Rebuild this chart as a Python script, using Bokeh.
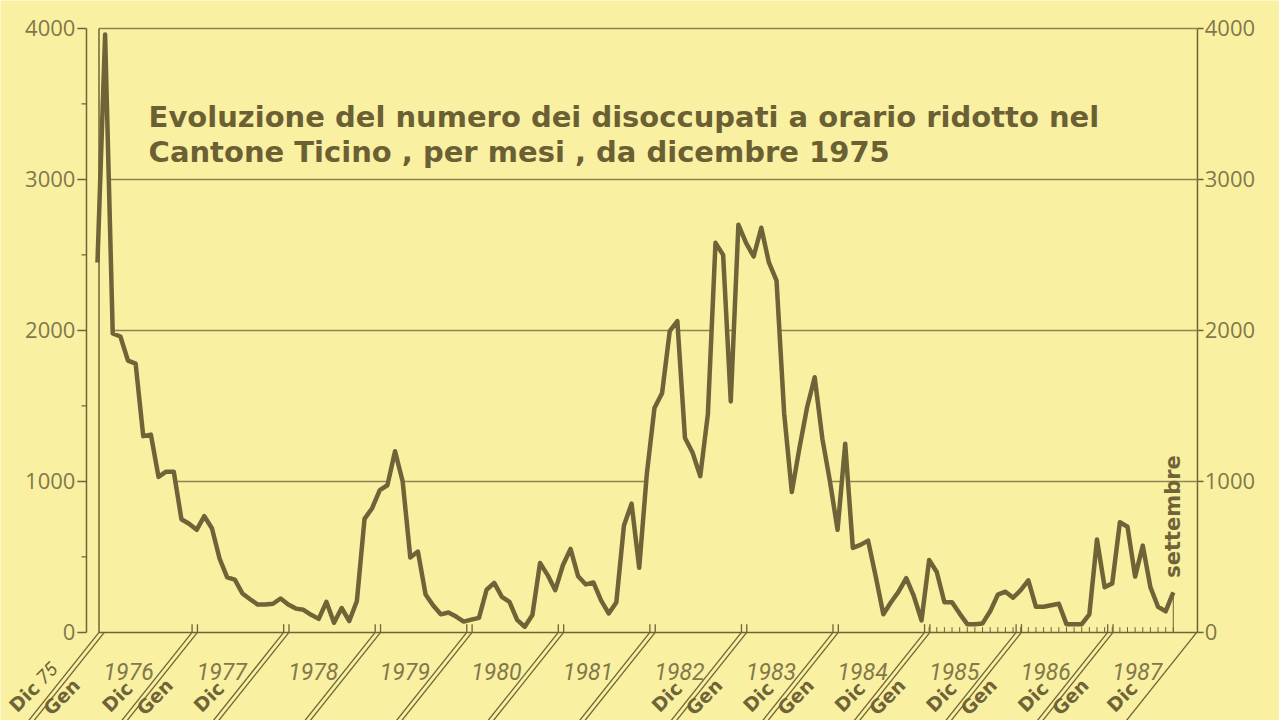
import math
from bokeh.plotting import figure
from bokeh.models import Range1d
from bokeh.core.properties import value
from bokeh.embed import file_html
from bokeh.resources import INLINE

# ---------------- data ----------------
# month index: 0 = dicembre 1975 ... 141 = settembre 1987
months = list(range(142))
disoccupati = [
    2450, 3960, 1980, 1960, 1800, 1780, 1300, 1310, 1030, 1065, 1065, 750,   # dic75 - nov76
    720, 680, 770, 690, 490, 365, 350, 258, 220, 185, 185, 190,             # dic76 - nov77
    225, 185, 158, 150, 117, 90, 203, 64, 162, 76, 208, 752,                # dic77 - nov78
    823, 943, 975, 1200, 1000, 497, 536, 252, 178, 120, 132, 105,           # dic78 - nov79
    72, 85, 97, 283, 328, 236, 202, 83, 38, 115, 460, 380,                  # dic79 - nov80
    280, 445, 553, 372, 318, 331, 212, 126, 198, 708, 853, 428,             # dic80 - nov81
    1050, 1486, 1585, 1995, 2062, 1288, 1190, 1035, 1445, 2580, 2500, 1530, # dic81 - nov82
    2700, 2580, 2490, 2680, 2450, 2330, 1450, 930, 1220, 1490, 1690, 1286,  # dic82 - nov83
    1000, 680, 1250, 560, 580, 608, 370, 121, 200, 270, 360, 240,           # dic83 - nov84
    80, 480, 400, 200, 200, 125, 55, 55, 60, 140, 250, 270,                 # dic84 - nov85
    230, 280, 345, 170, 170, 180, 190, 55, 55, 55, 120, 615,                # dic85 - nov86
    300, 325, 730, 700, 370, 575, 300, 170, 140, 265,                       # dic86 - set87
]
y_ticks = [0, 1000, 2000, 3000, 4000]
y_tick_labels = ["0", "1000", "2000", "3000", "4000"]
y_minor = [500, 1500, 2500, 3500]
grid_levels = [1000, 2000, 3000, 4000]
years = ["1976", "1977", "1978", "1979", "1980", "1981",
         "1982", "1983", "1984", "1985", "1986", "1987"]
# labels written under each year break (origin, 1977 ... 1987, end)
break_labels = [["Dic", "Gen"], ["Dic", "Gen"], ["Dic"], [], [], [], [],
                ["Dic", "Gen"], ["Dic", "Gen"], ["Dic", "Gen"], ["Dic", "Gen"],
                ["Dic", "Gen"], ["Dic"]]
first_year_suffix = "75"
title_lines = ["Evoluzione del numero dei disoccupati a orario ridotto nel",
               "Cantone Ticino , per mesi , da dicembre 1975"]
last_label = "settembre"

# ---------------- style ----------------
BG = "#FAF0A2"
INK = "#6E6437"
SOFT = "#82784A"
GRIDC = "#8E844F"
X_LO, X_HI = -12.71, 154.92      # whole canvas
Y_LO, Y_HI = -583, 4185
AXIS_L, AXIS_R = -1.44, 144.17   # positions of the two value axes
LEFT_EDGE = 0.2
SLANT = 0.0158                   # months per value unit for the slanted break lines
PAIR_GAP = 0.7
Y_BOTTOM = -640
Y_LAB = -425

p = figure(width=1279, height=720, output_backend="svg", toolbar_location=None,
           x_range=Range1d(X_LO, X_HI), y_range=Range1d(Y_LO, Y_HI),
           x_axis_location=None, y_axis_location=None,
           min_border_left=0, min_border_right=0, min_border_top=0, min_border_bottom=0)
p.background_fill_color = BG
p.border_fill_color = BG
p.outline_line_color = None
p.grid.visible = False

# ----- value axes (left with minor ticks, right) -----
n = len(y_ticks)
p.segment(x0=[AXIS_L, AXIS_R], x1=[AXIS_L, AXIS_R], y0=[0, 0], y1=[4000, 4000],
          line_color=INK, line_width=1.5)
p.segment(x0=[AXIS_L] * n, x1=[AXIS_L - 1.2] * n, y0=y_ticks, y1=y_ticks,
          line_color=INK, line_width=1.5)
p.segment(x0=[AXIS_L] * len(y_minor), x1=[AXIS_L - 0.65] * len(y_minor), y0=y_minor, y1=y_minor,
          line_color=INK, line_width=1.3)
p.segment(x0=[AXIS_R] * n, x1=[AXIS_R + 0.8] * n, y0=y_ticks, y1=y_ticks,
          line_color=INK, line_width=1.5)
p.text(x=[AXIS_L - 1.45] * n, y=y_ticks, text=y_tick_labels, text_font=value("Open Sans"),
       text_font_size="22px", text_color=SOFT, text_align="right", text_baseline="middle")
p.text(x=[AXIS_R + 0.95] * n, y=y_ticks, text=y_tick_labels, text_font=value("Open Sans"),
       text_font_size="22px", text_color=SOFT, text_align="left", text_baseline="middle")

# grid lines
p.segment(x0=[LEFT_EDGE] * len(grid_levels), x1=[AXIS_R] * len(grid_levels),
          y0=grid_levels, y1=grid_levels, line_color=GRIDC, line_width=1.5)

# hide grid under the curve
p.varea(x=months, y1=[0] * len(months), y2=disoccupati, fill_color=BG)

# left frame line and baseline
p.segment(x0=[LEFT_EDGE, LEFT_EDGE], x1=[LEFT_EDGE, AXIS_R], y0=[0, 0], y1=[4000, 0],
          line_color=INK, line_width=1.5)

# year breaks: slanted double lines
breaks = [LEFT_EDGE] + [12 * k + 0.4 for k in range(1, len(years))] + [AXIS_R - 0.1]
sx0, sx1, sy0, sy1 = [], [], [], []
for j, b in enumerate(breaks):
    offs = [0, PAIR_GAP] if j < len(breaks) - 1 else [0]
    for o in offs:
        sx0.append(b + o)
        sy0.append(0)
        sx1.append(b + o - (0 - Y_BOTTOM) * SLANT)
        sy1.append(Y_BOTTOM)
p.segment(x0=sx0, x1=sx1, y0=sy0, y1=sy1, line_color=INK, line_width=1.3)
# short upright strokes of the breaks
up_x = [b + o for b in breaks[1:-1] for o in (0, PAIR_GAP)]
p.segment(x0=up_x, x1=up_x, y0=[0] * len(up_x), y1=[55] * len(up_x),
          line_color=INK, line_width=1.3)

# monthly ticks from 1985
tick_m = [m for m in months if m >= 109]
p.segment(x0=tick_m, x1=tick_m, y0=[0] * len(tick_m), y1=[35] * len(tick_m),
          line_color=INK, line_width=1)
# drop line at last month
p.segment(x0=[months[-1]], x1=[months[-1]], y0=[0], y1=[disoccupati[-1]],
          line_color=INK, line_width=1)

# the series
p.line(months, disoccupati, line_color=INK, line_width=4.5, line_join="round")

# year labels
p.text(x=[b + 0.6 for b in breaks[:len(years)]], y=[-258] * len(years), text=years,
       text_font=value("Roboto"), text_font_style="italic", text_font_size="23px",
       text_color=SOFT, text_align="left", text_baseline="alphabetic")

# Dic / Gen labels
lx, ly, lt = [], [], []
for b, labs in zip(breaks, break_labels):
    line_x = b - (0 - Y_LAB) * SLANT
    for lab in labs:
        lx.append(line_x - 3.1 if lab == "Dic" else line_x + 1.8)
        ly.append(Y_LAB)
        lt.append(lab)
p.text(x=lx, y=ly, text=lt, angle=math.pi / 4, text_font=value("DejaVu Sans"),
       text_font_style="bold", text_font_size="19px", text_color=INK,
       text_align="center", text_baseline="middle")
# "75" after the first Dic
p.text(x=[lx[0] + 3.0], y=[Y_LAB + 155], text=[first_year_suffix], angle=math.pi / 4,
       text_font=value("Roboto"), text_font_style="italic", text_font_size="19px",
       text_color=INK, text_align="center", text_baseline="middle")

# title
p.text(x=[6.7, 6.7], y=[3411, 3179], text=title_lines, text_font=value("DejaVu Sans"),
       text_font_style="bold", text_font_size="29px", text_color="#6A6034",
       text_align="left", text_baseline="alphabetic")

# settembre
p.text(x=[months[-1] - 0.1], y=[768], text=[last_label], angle=math.pi / 2,
       text_font=value("DejaVu Sans"), text_font_style="bold", text_font_size="21px",
       text_color=INK, text_align="center", text_baseline="middle")

open("out.html", "w").write(file_html(p, INLINE))
